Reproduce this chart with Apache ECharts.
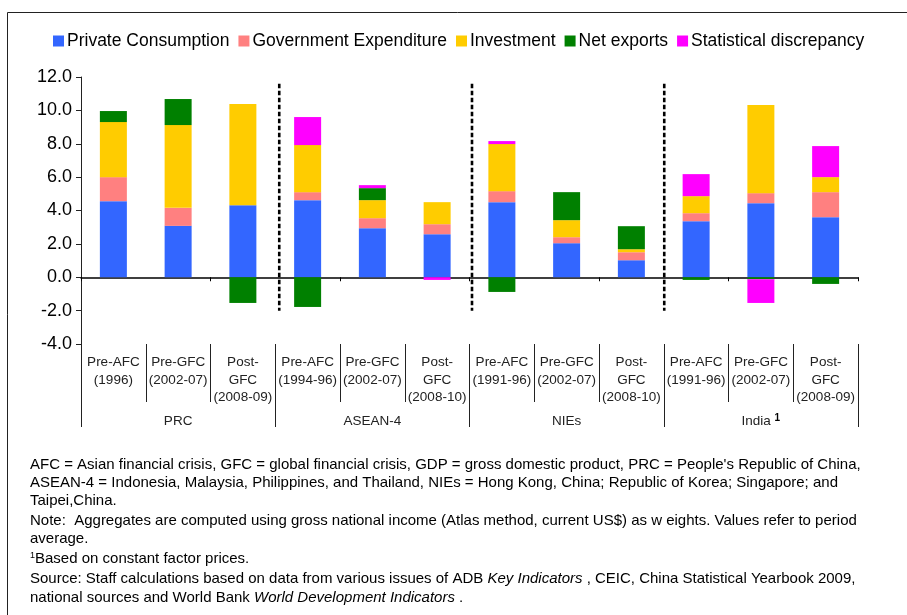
<!DOCTYPE html>
<html>
<head>
<meta charset="utf-8">
<script src="https://cdn.jsdelivr.net/npm/echarts@6/dist/echarts.min.js"></script>
<style>
html,body{margin:0;padding:0;background:#fff;}
#c{width:907px;height:615px;}
</style>
</head>
<body>
<div id="c"></div>
<script>
const categories = ['Pre-AFC\n(1996)','Pre-GFC\n(2002-07)','Post-\nGFC\n(2008-09)',
  'Pre-AFC\n(1994-96)','Pre-GFC\n(2002-07)','Post-\nGFC\n(2008-10)',
  'Pre-AFC\n(1991-96)','Pre-GFC\n(2002-07)','Post-\nGFC\n(2008-10)',
  'Pre-AFC\n(1991-96)','Pre-GFC\n(2002-07)','Post-\nGFC\n(2008-09)'];
const groups = ['PRC','ASEAN-4','NIEs','India'];
const seriesNames = ['Private Consumption','Government Expenditure','Investment','Net exports','Statistical discrepancy'];
const privateConsumption = [4.56,3.08,4.32, 4.62,2.94,2.58, 4.50,2.04,1.02, 3.36,4.44,3.60];
const governmentExpenditure = [1.44,1.08,0, 0.48,0.60,0.60, 0.66,0.36,0.48, 0.48,0.60,1.50];
const investment = [3.30,4.96,6.06, 2.82,1.08,1.32, 2.82,1.02,0.18, 1.02,5.28,0.90];
const netExports = [0.66,1.56,-1.54, -1.78,0.72,0, -0.88,1.68,1.38, -0.16,-0.12,-0.40];
const statDiscrepancy = [0,0,0, 1.68,0.18,-0.16, 0.18,0,0, 1.32,-1.42,1.86];
const yTicks = {min:-4, max:12, interval:2};

const colors = ['#3366FF','#FF8080','#FFCC00','#008000','#FF00FF'];
const values = [privateConsumption, governmentExpenditure, investment, netExports, statDiscrepancy];
const FONT = '"Liberation Sans", Arial, sans-serif';

const chart = echarts.init(document.getElementById('c'), null, {renderer:'canvas'});
const option = {
  animation:false,
  color: colors,
  textStyle:{fontFamily:FONT},
  legend:{
    top:27, left:48,
    itemWidth:11, itemHeight:11, itemGap:9,
    icon:'rect',
    textStyle:{fontSize:17.5, color:'#000', fontFamily:FONT, padding:[0,0,0,-2]},
    data: seriesNames
  },
  grid:{left:81, top:77, width:777, height:267, containLabel:false},
  xAxis:[
    {type:'category', data:categories, gridIndex:0,
     axisLine:{show:true, onZero:true, lineStyle:{color:'#000', width:1.5}},
     axisTick:{show:true, length:4, lineStyle:{color:'#000'}},
     axisLabel:{show:false}, splitLine:{show:false}},
    {type:'category', data:categories, gridIndex:0, position:'bottom', offset:0,
     axisLine:{show:false, onZero:false},
     axisTick:{show:true, length:58, lineStyle:{color:'#222'}},
     axisLabel:{show:true, interval:0, margin:10, fontSize:13.5, lineHeight:17.5, color:'#222', fontFamily:FONT},
     splitLine:{show:false}},
    {type:'category', data:groups, gridIndex:0, position:'bottom', offset:0,
     axisLine:{show:false, onZero:false},
     axisTick:{show:true, length:83, lineStyle:{color:'#222'}},
     axisLabel:{show:true, interval:0, margin:69, fontSize:13.5, lineHeight:17, color:'#222', fontFamily:FONT,
       formatter: v => v === 'India' ? 'India {sup|1}' : v,
       rich:{sup:{fontSize:10, fontWeight:'bold', color:'#000', padding:[0,0,7,0], fontFamily:FONT}}},
     splitLine:{show:false}}
  ],
  yAxis:{type:'value', min:yTicks.min, max:yTicks.max, interval:yTicks.interval,
    axisLine:{show:true, lineStyle:{color:'#222', width:1}},
    axisTick:{show:true, length:5, lineStyle:{color:'#222'}},
    axisLabel:{fontSize:18, color:'#000', margin:9, fontFamily:FONT, formatter: v => v.toFixed(1)},
    splitLine:{show:false}},
  series: seriesNames.map((n,i)=>({
    name:n, type:'bar', stack:'total', barWidth:27, xAxisIndex:0,
    itemStyle:{color:colors[i]},
    data: values[i]
  }))
};
chart.setOption(option);

// decorations: dashed group separators, frame, footnotes
const g = [];
g.push({type:'rect', shape:{x:7.5, y:12.5, width:1000, height:1000}, style:{fill:null, stroke:'#222', lineWidth:1}, silent:true, z:0});
const yTop = chart.convertToPixel({yAxisIndex:0}, 11.6);
const yBot = chart.convertToPixel({yAxisIndex:0}, -2.0);
[3,6,9].forEach((idx,k)=>{
  const a = chart.convertToPixel({xAxisIndex:0}, idx-1);
  const b = chart.convertToPixel({xAxisIndex:0}, idx);
  const x = (a+b)/2 + [4,2.5,0.5][k];
  g.push({type:'line', shape:{x1:x, y1:yTop, x2:x, y2:yBot},
    style:{stroke:'#000', lineWidth:2.6, lineDash:[4.5,2.5]}, silent:true, z:10});
});
const noteLines = [
  "AFC = Asian financial crisis, GFC = global financial crisis, GDP = gross domestic product, PRC = People's Republic of China,",
  "ASEAN-4 = Indonesia, Malaysia, Philippines, and Thailand, NIEs = Hong Kong, China; Republic of Korea; Singapore; and",
  "Taipei,China.",
  "Note:  Aggregates are computed using gross national income (Atlas method, current US$) as w eights. Values refer to period",
  "average.",
  "{sup|1}Based on constant factor prices.",
  "Source: Staff calculations based on data from various issues of ADB {i|Key Indicators} , CEIC, China Statistical Yearbook 2009,",
  "national sources and World Bank {i|World Development Indicators} ."
];
const noteY = [465, 483, 501, 521, 539, 559, 579, 598];
noteLines.forEach((t,i)=>{
  g.push({type:'text', x:30, y:noteY[i], silent:true,
    style:{text:t, fontSize:15, fontFamily:FONT, fill:'#000', verticalAlign:'middle',
      rich:{i:{fontStyle:'italic', fontSize:15, fontFamily:FONT, fill:'#000'},
            sup:{fontSize:9, fontFamily:FONT, fill:'#000', padding:[0,0,7,0]}}}});
});
chart.setOption({graphic:g});
</script>
</body>
</html>
